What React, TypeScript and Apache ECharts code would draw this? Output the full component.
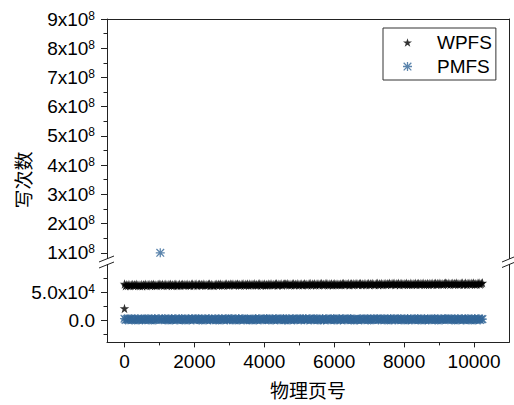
import React, { useEffect, useRef } from "react";
import * as echarts from "echarts";

// physical page numbers (sampled)
const pages = [
  0, 32, 64, 96, 128, 160, 192, 224, 256, 288, 320, 352, 384, 416, 448, 480,
  512, 544, 576, 608, 640, 672, 704, 736, 768, 800, 832, 864, 896, 928, 960, 992,
  1024, 1056, 1088, 1120, 1152, 1184, 1216, 1248, 1280, 1312, 1344, 1376, 1408, 1440, 1472, 1504,
  1536, 1568, 1600, 1632, 1664, 1696, 1728, 1760, 1792, 1824, 1856, 1888, 1920, 1952, 1984, 2016,
  2048, 2080, 2112, 2144, 2176, 2208, 2240, 2272, 2304, 2336, 2368, 2400, 2432, 2464, 2496, 2528,
  2560, 2592, 2624, 2656, 2688, 2720, 2752, 2784, 2816, 2848, 2880, 2912, 2944, 2976, 3008, 3040,
  3072, 3104, 3136, 3168, 3200, 3232, 3264, 3296, 3328, 3360, 3392, 3424, 3456, 3488, 3520, 3552,
  3584, 3616, 3648, 3680, 3712, 3744, 3776, 3808, 3840, 3872, 3904, 3936, 3968, 4000, 4032, 4064,
  4096, 4128, 4160, 4192, 4224, 4256, 4288, 4320, 4352, 4384, 4416, 4448, 4480, 4512, 4544, 4576,
  4608, 4640, 4672, 4704, 4736, 4768, 4800, 4832, 4864, 4896, 4928, 4960, 4992, 5024, 5056, 5088,
  5120, 5152, 5184, 5216, 5248, 5280, 5312, 5344, 5376, 5408, 5440, 5472, 5504, 5536, 5568, 5600,
  5632, 5664, 5696, 5728, 5760, 5792, 5824, 5856, 5888, 5920, 5952, 5984, 6016, 6048, 6080, 6112,
  6144, 6176, 6208, 6240, 6272, 6304, 6336, 6368, 6400, 6432, 6464, 6496, 6528, 6560, 6592, 6624,
  6656, 6688, 6720, 6752, 6784, 6816, 6848, 6880, 6912, 6944, 6976, 7008, 7040, 7072, 7104, 7136,
  7168, 7200, 7232, 7264, 7296, 7328, 7360, 7392, 7424, 7456, 7488, 7520, 7552, 7584, 7616, 7648,
  7680, 7712, 7744, 7776, 7808, 7840, 7872, 7904, 7936, 7968, 8000, 8032, 8064, 8096, 8128, 8160,
  8192, 8224, 8256, 8288, 8320, 8352, 8384, 8416, 8448, 8480, 8512, 8544, 8576, 8608, 8640, 8672,
  8704, 8736, 8768, 8800, 8832, 8864, 8896, 8928, 8960, 8992, 9024, 9056, 9088, 9120, 9152, 9184,
  9216, 9248, 9280, 9312, 9344, 9376, 9408, 9440, 9472, 9504, 9536, 9568, 9600, 9632, 9664, 9696,
  9728, 9760, 9792, 9824, 9856, 9888, 9920, 9952, 9984, 10016, 10048, 10080, 10112, 10144, 10176, 10208,
  10240,
];

// WPFS write counts (dense band around 6.3-6.6 x10^4)
const wpfs = [
  65000, 61800, 63400, 62300, 64100, 61700, 63200, 63900, 62000, 63600, 62600, 64200, 62100, 63100, 61900, 63800,
  61900, 63500, 62400, 64200, 61800, 63300, 64000, 62100, 63700, 62700, 64300, 62200, 63200, 62000, 63900, 64400,
  63650, 62550, 64350, 61950, 63450, 64150, 62250, 63850, 62850, 64450, 62350, 63350, 62150, 64050, 64550, 62050,
  62675, 64475, 62075, 63575, 64275, 62375, 63975, 62975, 64575, 62475, 63475, 62275, 64175, 64675, 62175, 63775,
  64600, 62200, 63700, 64400, 62500, 64100, 63100, 64700, 62600, 63600, 62400, 64300, 64800, 62300, 63900, 62800,
  62325, 63825, 64525, 62625, 64225, 63225, 64825, 62725, 63725, 62525, 64425, 64925, 62425, 64025, 62925, 64725,
  63950, 64650, 62750, 64350, 63350, 64950, 62850, 63850, 62650, 64550, 65050, 62550, 64150, 63050, 64850, 62450,
  64775, 62875, 64475, 63475, 65075, 62975, 63975, 62775, 64675, 65175, 62675, 64275, 63175, 64975, 62575, 64075,
  63000, 64600, 63600, 65200, 63100, 64100, 62900, 64800, 65300, 62800, 64400, 63300, 65100, 62700, 64200, 64900,
  64725, 63725, 65325, 63225, 64225, 63025, 64925, 65425, 62925, 64525, 63425, 65225, 62825, 64325, 65025, 63125,
  63850, 65450, 63350, 64350, 63150, 65050, 65550, 63050, 64650, 63550, 65350, 62950, 64450, 65150, 63250, 64850,
  65575, 63475, 64475, 63275, 65175, 65675, 63175, 64775, 63675, 65475, 63075, 64575, 65275, 63375, 64975, 63975,
  63600, 64600, 63400, 65300, 65800, 63300, 64900, 63800, 65600, 63200, 64700, 65400, 63500, 65100, 64100, 65700,
  64725, 63525, 65425, 65925, 63425, 65025, 63925, 65725, 63325, 64825, 65525, 63625, 65225, 64225, 65825, 63725,
  63650, 65550, 66050, 63550, 65150, 64050, 65850, 63450, 64950, 65650, 63750, 65350, 64350, 65950, 63850, 64850,
  65675, 66175, 63675, 65275, 64175, 65975, 63575, 65075, 65775, 63875, 65475, 64475, 66075, 63975, 64975, 63775,
  66300, 63800, 65400, 64300, 66100, 63700, 65200, 65900, 64000, 65600, 64600, 66200, 64100, 65100, 63900, 65800,
  63925, 65525, 64425, 66225, 63825, 65325, 66025, 64125, 65725, 64725, 66325, 64225, 65225, 64025, 65925, 66425,
  65650, 64550, 66350, 63950, 65450, 66150, 64250, 65850, 64850, 66450, 64350, 65350, 64150, 66050, 66550, 64050,
  64675, 66475, 64075, 65575, 66275, 64375, 65975, 64975, 66575, 64475, 65475, 64275, 66175, 66675, 64175, 65775,
  67000,
];
const wpfsExtraPages = [0];
const wpfsExtra = [21000];

// PMFS write counts (band near 0, one page at 1x10^8)
const pmfs = [
  2600, 200, 1800, 600, 2400, 1000, 2800, 400, 1500, 0, 2200, 800, 2700, 300, 1200, 2000,
  200, 1800, 600, 2400, 1000, 2800, 400, 1500, 0, 2200, 800, 2700, 300, 1200, 2000, 2600,
  100000000, 600, 2400, 1000, 2800, 400, 1500, 0, 2200, 800, 2700, 300, 1200, 2000, 2600, 200,
  600, 2400, 1000, 2800, 400, 1500, 0, 2200, 800, 2700, 300, 1200, 2000, 2600, 200, 1800,
  2400, 1000, 2800, 400, 1500, 0, 2200, 800, 2700, 300, 1200, 2000, 2600, 200, 1800, 600,
  1000, 2800, 400, 1500, 0, 2200, 800, 2700, 300, 1200, 2000, 2600, 200, 1800, 600, 2400,
  2800, 400, 1500, 0, 2200, 800, 2700, 300, 1200, 2000, 2600, 200, 1800, 600, 2400, 1000,
  400, 1500, 0, 2200, 800, 2700, 300, 1200, 2000, 2600, 200, 1800, 600, 2400, 1000, 2800,
  1500, 0, 2200, 800, 2700, 300, 1200, 2000, 2600, 200, 1800, 600, 2400, 1000, 2800, 400,
  0, 2200, 800, 2700, 300, 1200, 2000, 2600, 200, 1800, 600, 2400, 1000, 2800, 400, 1500,
  2200, 800, 2700, 300, 1200, 2000, 2600, 200, 1800, 600, 2400, 1000, 2800, 400, 1500, 0,
  800, 2700, 300, 1200, 2000, 2600, 200, 1800, 600, 2400, 1000, 2800, 400, 1500, 0, 2200,
  2700, 300, 1200, 2000, 2600, 200, 1800, 600, 2400, 1000, 2800, 400, 1500, 0, 2200, 800,
  300, 1200, 2000, 2600, 200, 1800, 600, 2400, 1000, 2800, 400, 1500, 0, 2200, 800, 2700,
  1200, 2000, 2600, 200, 1800, 600, 2400, 1000, 2800, 400, 1500, 0, 2200, 800, 2700, 300,
  2000, 2600, 200, 1800, 600, 2400, 1000, 2800, 400, 1500, 0, 2200, 800, 2700, 300, 1200,
  2600, 200, 1800, 600, 2400, 1000, 2800, 400, 1500, 0, 2200, 800, 2700, 300, 1200, 2000,
  200, 1800, 600, 2400, 1000, 2800, 400, 1500, 0, 2200, 800, 2700, 300, 1200, 2000, 2600,
  1800, 600, 2400, 1000, 2800, 400, 1500, 0, 2200, 800, 2700, 300, 1200, 2000, 2600, 200,
  600, 2400, 1000, 2800, 400, 1500, 0, 2200, 800, 2700, 300, 1200, 2000, 2600, 200, 1800,
  1800,
];

const xMajor = [0, 2000, 4000, 6000, 8000, 10000];
const xMinor = [1000, 3000, 5000, 7000, 9000];
const upperMajor = [1e8, 2e8, 3e8, 4e8, 5e8, 6e8, 7e8, 8e8, 9e8];
const upperMinor = [1.5e8, 2.5e8, 3.5e8, 4.5e8, 5.5e8, 6.5e8, 7.5e8, 8.5e8];
const lowerMajor = [0, 5e4];
const lowerMinor = [-2.5e4, 2.5e4, 7.5e4];

const X_MIN = -500;
const X_MAX = 11000;
const UP_MIN = 0.8e8;
const UP_MAX = 9e8;
const LO_MIN = -4e4;
const LO_MAX = 1e5;

const FONT = "'Liberation Sans', Arial, sans-serif";
const CJK = "'Noto Sans CJK SC', sans-serif";
const LINE = "#222";
const BLUE = "#336699";

const ASTERISK =
  "path://M0 8.6H20V11.4H0Z M8.6 0H11.4V20H8.6Z M2.5 0.5L19.5 17.5L17.5 19.5L0.5 2.5Z M17.5 0.5L19.5 2.5L2.5 19.5L0.5 17.5Z";
const STAR =
  "path://M10 0L12.25 6.91L19.51 6.91L13.63 11.18L15.88 18.09L10 13.82L4.12 18.09L6.37 11.18L0.49 6.91L7.75 6.91Z";

const rich = {
  b: { fontSize: 19, fontFamily: FONT, color: "#000" },
  s: { fontSize: 12, fontFamily: FONT, color: "#000", verticalAlign: "top" as const },
};

function upperLabel(v: number) {
  return `{b|${Math.round(v / 1e8)}x10}{s|8}`;
}
function lowerLabel(v: number) {
  if (v === 0) return "{b|0.0}";
  return `{b|${(v / 1e4).toFixed(1)}x10}{s|4}`;
}

export default function App() {
  const ref = useRef<HTMLDivElement>(null);
  useEffect(() => {
    document.body.style.margin = "0";
    document.body.style.overflow = "hidden";
    if (!ref.current) return;
    const chart = echarts.init(ref.current, undefined, { renderer: "svg" });

    const wpfsData: number[][] = pages.map((p, i) => [p, wpfs[i]]);
    wpfsExtraPages.forEach((p, i) => wpfsData.push([p, wpfsExtra[i]]));
    const pmfsAll = pages.map((p, i) => [p, pmfs[i]]);
    const pmfsLower = pmfsAll.filter((d) => d[1] <= LO_MAX);
    const pmfsUpper = pmfsAll.filter((d) => d[1] >= UP_MIN);

    const lineStyle = { color: LINE, width: 1 };
    const hidden = { show: false };

    chart.setOption({
      animation: false,
      textStyle: { fontFamily: FONT },
      grid: [
        { left: 107, right: 5, top: 19, height: 239.6 },
        { left: 107, right: 5, top: 264.4, height: 78 },
      ],
      xAxis: [
        {
          gridIndex: 0, type: "value", min: X_MIN, max: X_MAX, position: "top",
          axisLine: { show: true, onZero: false, lineStyle },
          axisTick: hidden, axisLabel: hidden, splitLine: hidden,
        },
        {
          gridIndex: 1, type: "value", min: X_MIN, max: X_MAX, position: "bottom",
          axisLine: { show: true, onZero: false, lineStyle },
          axisTick: { show: true, customValues: xMajor, length: 5, lineStyle },
          axisLabel: {
            show: true, customValues: xMajor, margin: 10, fontSize: 19, fontFamily: FONT, color: "#000",
            formatter: (v: number) => String(v),
          },
          splitLine: hidden,
          name: "物理页号", nameLocation: "middle", nameGap: 38,
          nameTextStyle: { fontFamily: CJK, fontSize: 19, color: "#000" },
        },
        {
          gridIndex: 1, type: "value", min: X_MIN, max: X_MAX, position: "bottom",
          axisLine: { show: false, onZero: false },
          axisTick: { show: true, customValues: xMinor, length: 3, lineStyle },
          axisLabel: hidden, splitLine: hidden,
        },
      ],
      yAxis: [
        {
          gridIndex: 0, type: "value", min: UP_MIN, max: UP_MAX, position: "left",
          axisLine: { show: true, onZero: false, lineStyle },
          axisTick: { show: true, customValues: upperMajor, length: 6, lineStyle },
          axisLabel: { show: true, customValues: upperMajor, margin: 12, formatter: upperLabel, rich },
          splitLine: hidden,
        },
        {
          gridIndex: 0, type: "value", min: UP_MIN, max: UP_MAX, position: "left",
          axisLine: { show: false, onZero: false },
          axisTick: { show: true, customValues: upperMinor, length: 3.5, lineStyle },
          axisLabel: hidden, splitLine: hidden,
        },
        {
          gridIndex: 0, type: "value", min: UP_MIN, max: UP_MAX, position: "right",
          axisLine: { show: true, onZero: false, lineStyle },
          axisTick: hidden, axisLabel: hidden, splitLine: hidden,
        },
        {
          gridIndex: 1, type: "value", min: LO_MIN, max: LO_MAX, position: "left",
          axisLine: { show: true, onZero: false, lineStyle },
          axisTick: { show: true, customValues: lowerMajor, length: 6, lineStyle },
          axisLabel: { show: true, customValues: lowerMajor, margin: 12, formatter: lowerLabel, rich },
          splitLine: hidden,
        },
        {
          gridIndex: 1, type: "value", min: LO_MIN, max: LO_MAX, position: "left",
          axisLine: { show: false, onZero: false },
          axisTick: { show: true, customValues: lowerMinor, length: 3.5, lineStyle },
          axisLabel: hidden, splitLine: hidden,
        },
        {
          gridIndex: 1, type: "value", min: LO_MIN, max: LO_MAX, position: "right",
          axisLine: { show: true, onZero: false, lineStyle },
          axisTick: hidden, axisLabel: hidden, splitLine: hidden,
        },
      ],
      legend: {
        orient: "vertical",
        left: 383,
        top: 28,
        data: ["WPFS", "PMFS"],
        itemWidth: 9,
        itemHeight: 9,
        itemGap: 5,
        padding: [5, 4, 4, 20],
        borderColor: "#333",
        borderWidth: 1,
        textStyle: { fontSize: 19, fontFamily: FONT, color: "#000", padding: [0, 0, 0, 20] },
      },
      series: [
        {
          name: "PMFS", type: "scatter", xAxisIndex: 1, yAxisIndex: 3,
          symbol: ASTERISK, symbolSize: 9, itemStyle: { color: BLUE },
          data: pmfsLower,
        },
        {
          name: "PMFS", type: "scatter", xAxisIndex: 0, yAxisIndex: 0,
          symbol: ASTERISK, symbolSize: 9, itemStyle: { color: BLUE },
          data: pmfsUpper,
        },
        {
          name: "WPFS", type: "scatter", xAxisIndex: 1, yAxisIndex: 3,
          symbol: STAR, symbolSize: 9.5, itemStyle: { color: "#000" },
          data: wpfsData,
        },
      ],
      graphic: [
        {
          type: "text", x: 22.5, y: 180, rotation: Math.PI / 2,
          style: { text: "写次数", font: `19px ${CJK}`, fill: "#000", align: "center", verticalAlign: "middle" },
        },
        { type: "line", shape: { x1: 99, y1: 262, x2: 114, y2: 256 }, style: { stroke: LINE, lineWidth: 1 } },
        { type: "line", shape: { x1: 99, y1: 268, x2: 114, y2: 262 }, style: { stroke: LINE, lineWidth: 1 } },
        { type: "line", shape: { x1: 502, y1: 262, x2: 514, y2: 257 }, style: { stroke: LINE, lineWidth: 1 } },
        { type: "line", shape: { x1: 502, y1: 267.5, x2: 514, y2: 262.5 }, style: { stroke: LINE, lineWidth: 1 } },
      ],
    });
    return () => chart.dispose();
  }, []);
  return <div ref={ref} style={{ width: 514, height: 405 }} />;
}
